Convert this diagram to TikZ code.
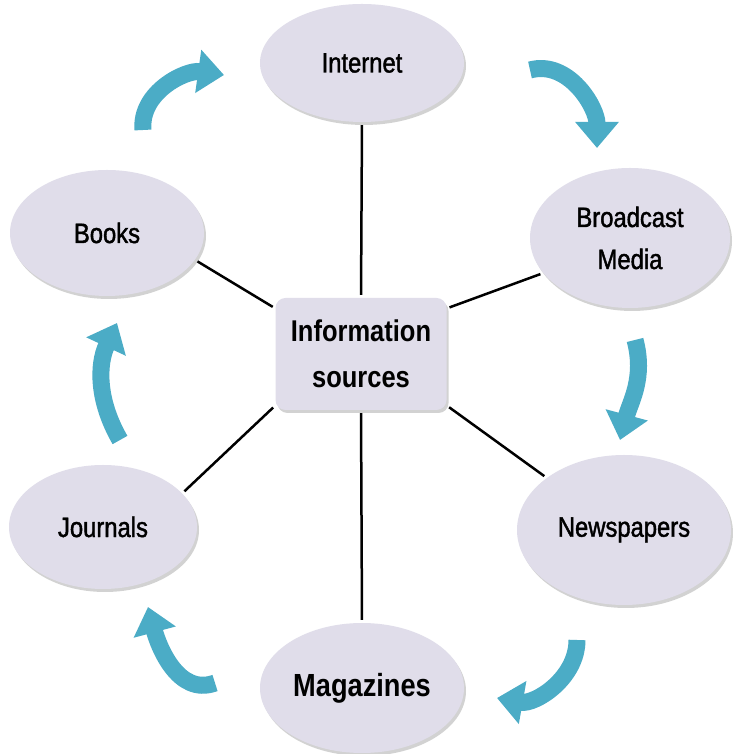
\documentclass[tikz,border=0pt]{standalone}
\usepackage{fontspec}
\setmainfont{Liberation Sans}[FakeStretch=0.85]
\usetikzlibrary{positioning, shapes.geometric, shadows, arrows.meta}

\definecolor{srcfill}{RGB}{224,221,234}
\definecolor{flowblue}{RGB}{75,172,198}

\begin{document}
\begin{tikzpicture}[x=1pt, y=1pt,
    source/.style={ellipse, fill=srcfill, inner sep=0pt, align=center,
        font=\fontsize{28}{42}\selectfont\addfontfeature{FakeBold=1.5},
        drop shadow={shadow xshift=2pt, shadow yshift=-3pt, opacity=0.35, fill=gray}},
    hub/.style={rectangle, rounded corners=10pt, fill=srcfill, align=center,
        minimum width=171pt, minimum height=112pt, inner sep=0pt,
        font=\fontsize{30}{46}\selectfont\bfseries,
        drop shadow={shadow xshift=2pt, shadow yshift=-3pt, opacity=0.35, fill=gray}},
    link/.style={line width=2.5pt, black, shorten >=3pt, shorten <=3pt},
    flow/.style={line width=17pt, draw=flowblue, -{Triangle[width=42pt,length=26pt]}}
]
    \useasboundingbox[fill=white] (0,0) rectangle (732,754);

    \node[hub] (info) at (361, 400) {Information\\sources};

    \node[source, minimum width=204pt, minimum height=118pt] (internet) at (362, 691) {Internet};
    \node[source, minimum width=200pt, minimum height=140pt] (broadcast) at (630, 516) {Broadcast\\Media};
    \node[source, minimum width=214pt, minimum height=150pt] (newspapers) at (624, 224) {Newspapers};
    \node[source, minimum width=204pt, minimum height=130pt,
        font=\fontsize{32}{40}\selectfont\bfseries] (magazines) at (362, 66) {Magazines};
    \node[source, minimum width=188pt, minimum height=124pt] (journals) at (103, 227) {Journals};
    \node[source, minimum width=194pt, minimum height=126pt] (books) at (107, 521) {Books};

    \draw[link] (internet.south) -- (info.north);
    \draw[link] (broadcast.202) -- (info.28);
    \draw[link] (newspapers.146) -- (info.-31);
    \draw[link] (magazines.north) -- (info.south);
    \draw[link] (journals.23) -- (info.211);
    \draw[link] (books.-17) -- (info.152);

    % curved arrows round the ring
    \coordinate (b2i) at (143, 624);  \coordinate (i2b) at (224, 679);
    \coordinate (i2m) at (530, 684);  \coordinate (m2n) at (597, 606);
    \coordinate (m3n) at (635, 414);  \coordinate (n2n) at (620, 314);
    \coordinate (n2g) at (577, 114);  \coordinate (g2n) at (497, 56);
    \coordinate (g2j) at (215, 71);   \coordinate (j2g) at (148, 147);
    \coordinate (j2b) at (120, 314);  \coordinate (b2j) at (117, 431);

    \draw[flow] (b2i) to[out=95, in=172] (i2b);
    \draw[flow] (i2m) to[out=15, in=90] (m2n);
    \draw[flow] (m3n) to[out=-75, in=75] (n2n);
    \draw[flow] (n2g) to[out=-90, in=-10] (g2n);
    \draw[flow] (g2j) to[out=200, in=-75] (j2g);
    \draw[flow] (j2b) to[out=120, in=-115] (b2j);
\end{tikzpicture}
\end{document}
